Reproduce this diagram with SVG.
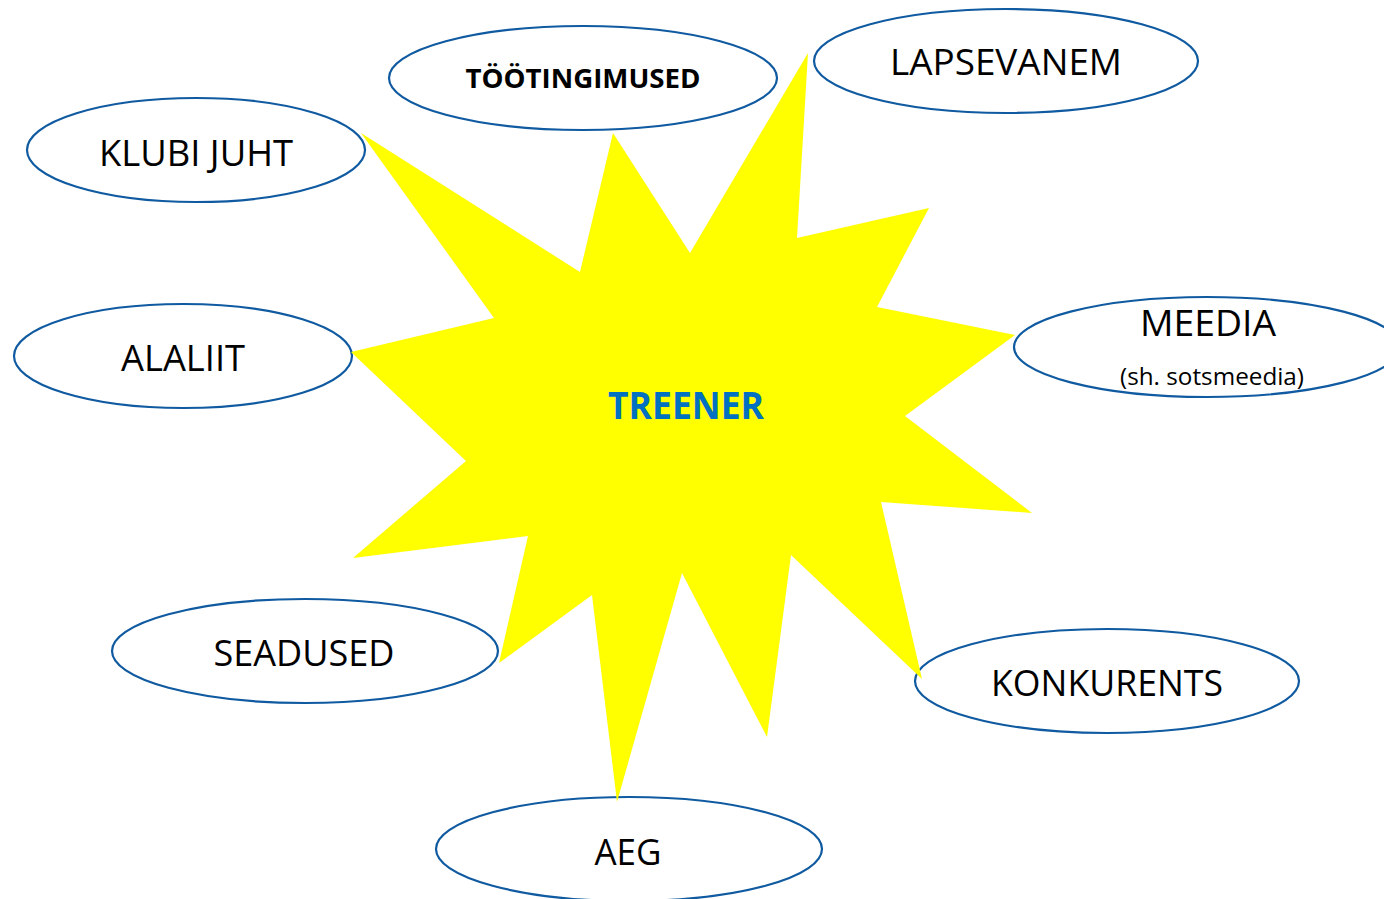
<svg xmlns="http://www.w3.org/2000/svg" width="1384" height="899" viewBox="0 0 1384 899">
<style>
.node ellipse{fill:#ffffff;stroke:#0f5aa0;stroke-width:2.2}
.lbl{font-family:"Open Sans","Noto Sans","Liberation Sans",sans-serif;font-size:37px;fill:#000;text-anchor:middle}
.bold{font-weight:bold}
.sub{font-size:23px}
.center{font-family:"Open Sans","Noto Sans","Liberation Sans",sans-serif;font-weight:bold;font-size:37px;fill:#0070c0;text-anchor:middle}
</style>
<rect width="1384" height="899" fill="#ffffff"/>
<g id="nodes">
<g id="klubi-juht" class="node"><ellipse cx="196" cy="150" rx="169" ry="52"/><text class="lbl" x="196" y="166" textLength="194" lengthAdjust="spacingAndGlyphs">KLUBI JUHT</text></g>
<g id="tootingimused" class="node"><ellipse cx="583" cy="78" rx="194" ry="52"/><text class="lbl bold" style="font-size:27px" x="583" y="88" textLength="235" lengthAdjust="spacingAndGlyphs">TÖÖTINGIMUSED</text></g>
<g id="lapsevanem" class="node"><ellipse cx="1006" cy="61" rx="192" ry="52"/><text class="lbl" x="1006" y="75" textLength="232" lengthAdjust="spacingAndGlyphs">LAPSEVANEM</text></g>
<g id="alaliit" class="node"><ellipse cx="183" cy="356" rx="169" ry="52"/><text class="lbl" x="183" y="371" textLength="124" lengthAdjust="spacingAndGlyphs">ALALIIT</text></g>
<g id="meedia" class="node"><ellipse cx="1207" cy="347" rx="193" ry="50"/><text class="lbl" x="1208" y="336" textLength="136" lengthAdjust="spacingAndGlyphs">MEEDIA</text><text class="lbl sub" x="1212" y="385" textLength="184" lengthAdjust="spacingAndGlyphs">(sh. sotsmeedia)</text></g>
<g id="seadused" class="node"><ellipse cx="305" cy="651" rx="193" ry="52"/><text class="lbl" x="304" y="666" textLength="181" lengthAdjust="spacingAndGlyphs">SEADUSED</text></g>
<g id="konkurents" class="node"><ellipse cx="1107" cy="681" rx="192" ry="52"/><text class="lbl" x="1107" y="696" textLength="232" lengthAdjust="spacingAndGlyphs">KONKURENTS</text></g>
<g id="aeg" class="node"><ellipse cx="629" cy="849" rx="193" ry="52"/><text class="lbl" x="628" y="865" textLength="67" lengthAdjust="spacingAndGlyphs">AEG</text></g>
</g>
<g id="treener">
<polygon fill="#ffff00" points="361,133 580,272 613,133 690,253 808,53 797,238 929,208 877,307 1015,335 905,416 1032,513 881,502 922,679 791,555 767,737 682,573 617,802 592,595 499,663 528,536 353,558 466,461 351,352 494,318"/>
<text class="center" x="686" y="419" textLength="156" lengthAdjust="spacingAndGlyphs">TREENER</text>
</g>
<g id="connectors"></g>
</svg>
